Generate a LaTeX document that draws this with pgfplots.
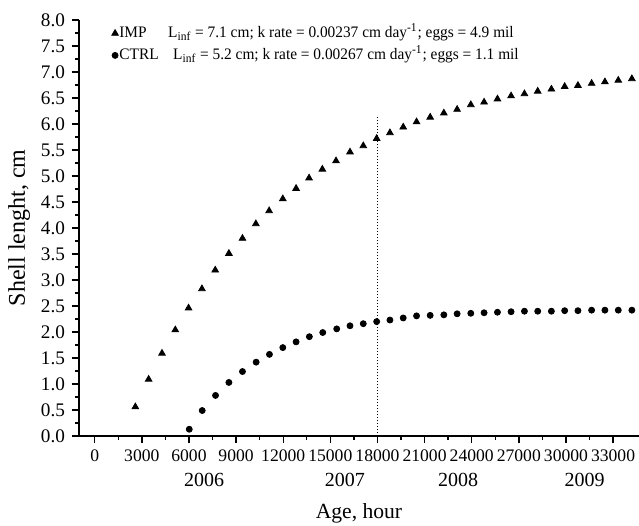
\documentclass[border=0pt]{standalone}
\usepackage{fontspec}
\setmainfont{Liberation Serif}
\newfontfamily\legfont[FakeStretch=0.96]{Liberation Serif}
\usepackage{pgfplots}
\pgfplotsset{compat=1.18}

\begin{document}
\begin{tikzpicture}
\begin{axis}[
  scale only axis,
  width=280pt, height=208pt,
  xmin=-1000, xmax=34650,
  ymin=0, ymax=8,
  axis lines=left,
  axis line style={-, line width=0.9pt},
  clip mode=individual,
  tick align=outside,
  major tick length=3.5pt, minor tick length=2pt,
  tick style={black, line width=0.7pt},
  xtick={0,3000,...,33000}, minor x tick num=1,
  ytick={0,0.5,...,8}, minor y tick num=1,
  scaled x ticks=false,
  /pgf/number format/assume math mode=true,
  xticklabel style={font=\fontsize{8.8}{10}\selectfont, /pgf/number format/1000 sep={}},
  yticklabel style={font=\fontsize{9.6}{11}\selectfont, /pgf/number format/.cd, fixed, fixed zerofill, precision=1},
  xlabel={Age, hour},
  ylabel={Shell lenght, cm},
  xlabel style={font=\fontsize{10.8}{13}\selectfont, at={(axis description cs:0.5,-0.185)}, anchor=center},
  ylabel style={font=\fontsize{12}{14}\selectfont, at={(axis description cs:-0.107,0.5)}, anchor=center},
  legend cell align=left,
  legend image code/.code={\draw[mark repeat=2,mark phase=2,#1] plot coordinates {(0pt,0pt) (2pt,0pt) (4pt,0pt)};},
  legend style={draw=none, fill=none, at={(0,1)}, anchor=north west,
    xshift=16.2pt, yshift=-2pt, inner sep=0pt, row sep=2pt,
    font=\legfont\fontsize{8}{10}\selectfont,
    nodes={inner sep=0.5pt, text height=6pt, text depth=2pt}},
]
% IMP
\addplot[only marks, mark=triangle*, mark size=1.9pt, black] coordinates {
(1700,-0.03) (2587,0.56) (3433,1.09) (4284,1.59) (5130,2.04) (5975,2.46)
(6826,2.83) (7672,3.19) (8543,3.51) (9407,3.80) (10259,4.08) (11104,4.33)
(11975,4.56) (12820,4.76) (13646,4.96) (14492,5.13) (15362,5.29) (16252,5.46)
(17098,5.58) (17950,5.72) (18794,5.83) (19640,5.94) (20490,6.04) (21356,6.13)
(22226,6.21) (23072,6.28) (23943,6.37) (24788,6.42) (25640,6.48) (26506,6.54)
(27357,6.58) (28202,6.63) (29073,6.67) (29918,6.72) (30763,6.74) (31634,6.78)
(32480,6.81) (33331,6.84) (34196,6.87)
};
% CTRL
\addplot[only marks, mark=*, mark size=1.5pt, black] coordinates {
(6019,0.13) (6845,0.49) (7691,0.78) (8543,1.03) (9407,1.24) (10278,1.42)
(11124,1.57) (11975,1.70) (12820,1.81) (13665,1.91) (14517,1.99) (15407,2.06)
(16252,2.12) (17098,2.16) (17950,2.20) (18794,2.23) (19640,2.27) (20490,2.31)
(21356,2.32) (22226,2.33) (23072,2.35) (23943,2.36) (24788,2.37) (25640,2.38)
(26506,2.39) (27357,2.40) (28202,2.40) (29073,2.40) (29918,2.41) (30763,2.41)
(31634,2.42) (32480,2.42) (33331,2.42) (34196,2.42)
};
\legend{\makebox[24.4pt][l]{IMP}L\textsubscript{inf} = 7.1 cm; k rate = 0.00237 cm day\textsuperscript{-1}; eggs = 4.9 mil,
        \makebox[26.9pt][l]{CTRL}L\textsubscript{inf} = 5.2 cm; k rate = 0.00267 cm day\textsuperscript{-1}; eggs = 1.1 mil}
\addplot[black, densely dotted, line width=0.5pt, forget plot] coordinates {(18000,0) (18000,6.15)};
\node[font=\fontsize{10}{12}\selectfont] at (axis cs:6970,0) [yshift=-22pt] {2006};
\node[font=\fontsize{10}{12}\selectfont] at (axis cs:15930,0) [yshift=-22pt] {2007};
\node[font=\fontsize{10}{12}\selectfont] at (axis cs:23136,0) [yshift=-22pt] {2008};
\node[font=\fontsize{10}{12}\selectfont] at (axis cs:31190,0) [yshift=-22pt] {2009};
\end{axis}
\pgfresetboundingbox
\path (-39.5pt,-45pt) rectangle (280pt,218pt);
\end{tikzpicture}
\end{document}
